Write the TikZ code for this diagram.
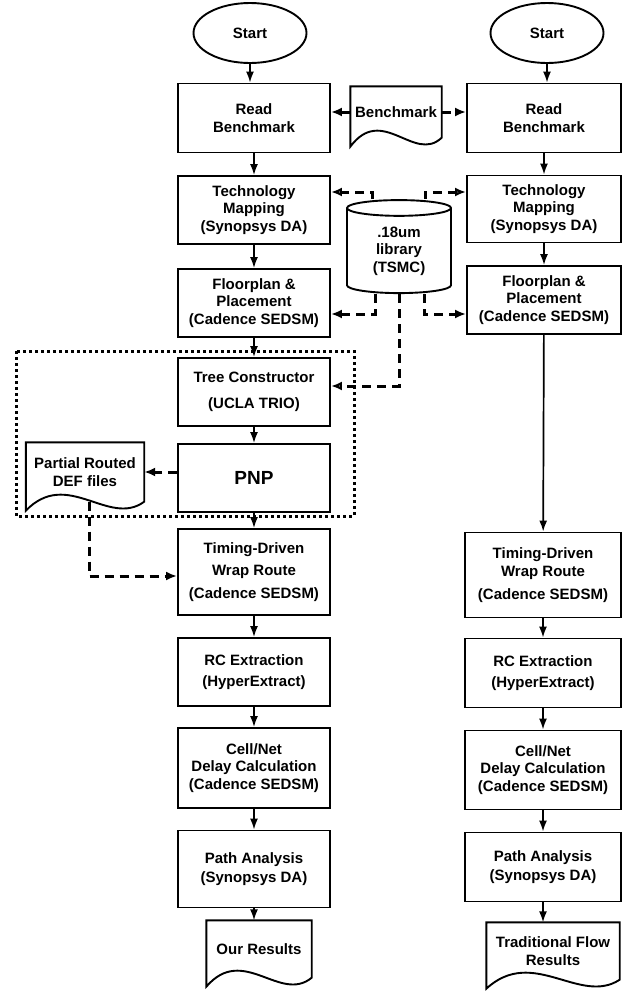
\documentclass[tikz,border=0pt]{standalone}
\usepackage{fontspec}
\setmainfont{Liberation Sans}
\usetikzlibrary{arrows.meta,shapes.geometric,calc}

% outline of a document node: flat top, wavy bottom
\newcommand{\docoutline}[1]{%
  \draw[line width=1.9pt] let \p1=(#1.south west), \p2=(#1.north east) in
    (\x1,{\y1-9pt}) -- (\x1,\y2) -- (\x2,\y2) -- (\x2,\y1)
    .. controls ({\x2-0.3*(\x2-\x1)},{\y1-26pt}) and ({\x1+0.35*(\x2-\x1)},{\y1+34pt}) .. (\x1,{\y1-9pt}) -- cycle;}

\begin{document}
\begin{tikzpicture}[x=1pt,y=-1pt,
  every node/.style={font=\bfseries\fontsize{15}{17.5}\selectfont, align=center},
  proc/.style={draw, line width=1.9pt, minimum width=152pt, inner sep=2pt},
  term/.style={draw, ellipse, line width=1.9pt, minimum width=113pt, minimum height=60pt},
  doc/.style={inner sep=0pt},
  store/.style={draw, cylinder, shape border rotate=90, aspect=0.3, line width=1.9pt,
    minimum width=104pt, minimum height=93pt, inner sep=0pt},
  arr/.style={line width=1.7pt, -{Latex[length=11pt,width=8pt]}},
  darr/.style={line width=3pt, dash pattern=on 9pt off 6pt, -{Latex[length=11pt,width=9pt]}},
  darro/.style={darr, -{Latex[open,length=11pt,width=9pt]}},
  dotbox/.style={line width=3pt, dash pattern=on 3pt off 3pt}]
\useasboundingbox (0,0) rectangle (627,994);

% our flow
\node[term] (startL) at (250,33) {Start};
\node[proc, minimum height=69pt] (readL) at (254,118) {Read\\Benchmark};
\node[proc, minimum height=68pt] (techL) at (254,210) {Technology\\Mapping\\(Synopsys DA)};
\node[proc, minimum height=68pt] (floorL) at (254,303) {Floorplan \&\\Placement\\(Cadence SEDSM)};
\node[proc, minimum height=68pt] (treeL) at (254,392) {Tree Constructor\\[8pt](UCLA TRIO)};
\node[proc, minimum height=68pt, font=\bfseries\fontsize{19}{22}\selectfont] (pnp) at (254,478) {PNP};
\node[proc, minimum height=86pt] (timingL) at (254,572) {Timing-Driven\\[5pt]Wrap Route\\[5pt](Cadence SEDSM)};
\node[proc, minimum height=68pt] (rcL) at (254,672) {RC Extraction\\[3pt](HyperExtract)};
\node[proc, minimum height=80pt] (cellL) at (254,768) {Cell/Net\\Delay Calculation\\(Cadence SEDSM)};
\node[proc, minimum height=77pt] (pathL) at (254,869) {Path Analysis\\[2pt](Synopsys DA)};
\node[doc, minimum width=105pt, minimum height=57pt] (ourres) at (259,949) {Our Results};
\docoutline{ourres}

% traditional flow
\node[term] (startR) at (547,33) {Start};
\node[proc, minimum height=69pt, minimum width=154pt] (readR) at (544,118) {Read\\Benchmark};
\node[proc, minimum height=67pt, minimum width=154pt] (techR) at (544,209) {Technology\\Mapping\\(Synopsys DA)};
\node[proc, minimum height=68pt, minimum width=154pt] (floorR) at (544,300) {Floorplan \&\\Placement\\(Cadence SEDSM)};
\node[proc, minimum height=85pt, minimum width=156pt] (timingR) at (543,575) {Timing-Driven\\[1pt]Wrap Route\\[5pt](Cadence SEDSM)};
\node[proc, minimum height=69pt, minimum width=156pt] (rcR) at (543,673) {RC Extraction\\[3pt](HyperExtract)};
\node[proc, minimum height=79pt, minimum width=156pt] (cellR) at (543,770) {Cell/Net\\Delay Calculation\\(Cadence SEDSM)};
\node[proc, minimum height=69pt, minimum width=156pt] (pathR) at (543,867) {Path Analysis\\[2pt](Synopsys DA)};
\node[doc, minimum width=133pt, minimum height=57pt] (tradres) at (553,951) {Traditional Flow\\Results};
\docoutline{tradres}

% shared inputs
\node[doc, minimum width=91pt, minimum height=51pt] (bench) at (396,112) {Benchmark};
\docoutline{bench}
\node[store] (lib) at (399,251) {.18um\\library\\(TSMC)};
\node[doc, minimum width=118pt, minimum height=59pt] (partial) at (85,472) {Partial Routed\\DEF files};
\docoutline{partial}

\draw[dotbox] (16,351) rectangle (354,516);

% main flow arrows
\draw[arr] (startL) -- (startL |- readL.north);
\draw[arr] (readL) -- (techL);
\draw[arr] (techL) -- (floorL);
\draw[arr] (floorL) -- (treeL);
\draw[arr] (treeL) -- (pnp);
\draw[arr] (pnp) -- (timingL);
\draw[arr] (timingL) -- (rcL);
\draw[arr] (rcL) -- (cellL);
\draw[arr] (cellL) -- (pathL);
\draw[arr] (pathL) -- (pathL |- ourres.north);

\draw[arr] (startR) -- (startR |- readR.north);
\draw[arr] (readR) -- (techR);
\draw[arr] (techR) -- (floorR);
\draw[arr] (floorR) -- (timingR);
\draw[arr] (timingR) -- (rcR);
\draw[arr] (rcR) -- (cellR);
\draw[arr] (cellR) -- (pathR);
\draw[arr] (pathR) -- (pathR |- tradres.north);

% data inputs
\draw[darr] (bench.west) -- (bench.west -| readL.east);
\draw[darr] (bench.east) -- (bench.east -| readR.west);
\draw[darro] ([xshift=-27pt]lib.north) |- ([yshift=18pt]techL.east);
\draw[darro] ([xshift=26pt]lib.north) |- ([yshift=17pt]techR.west);
\draw[darr] ([xshift=-24pt]lib.south) |- ([yshift=-11pt]floorL.east);
\draw[darr] ([xshift=25pt]lib.south) |- ([yshift=-14pt]floorR.west);
\draw[darro] (lib.south) |- ([yshift=6pt]treeL.east);
\draw[darr] (pnp.west |- partial.east) -- (partial.east);
\draw[darr] ([xshift=4pt]partial.south) |- ([yshift=-4pt]timingL.west);
\end{tikzpicture}
\end{document}
